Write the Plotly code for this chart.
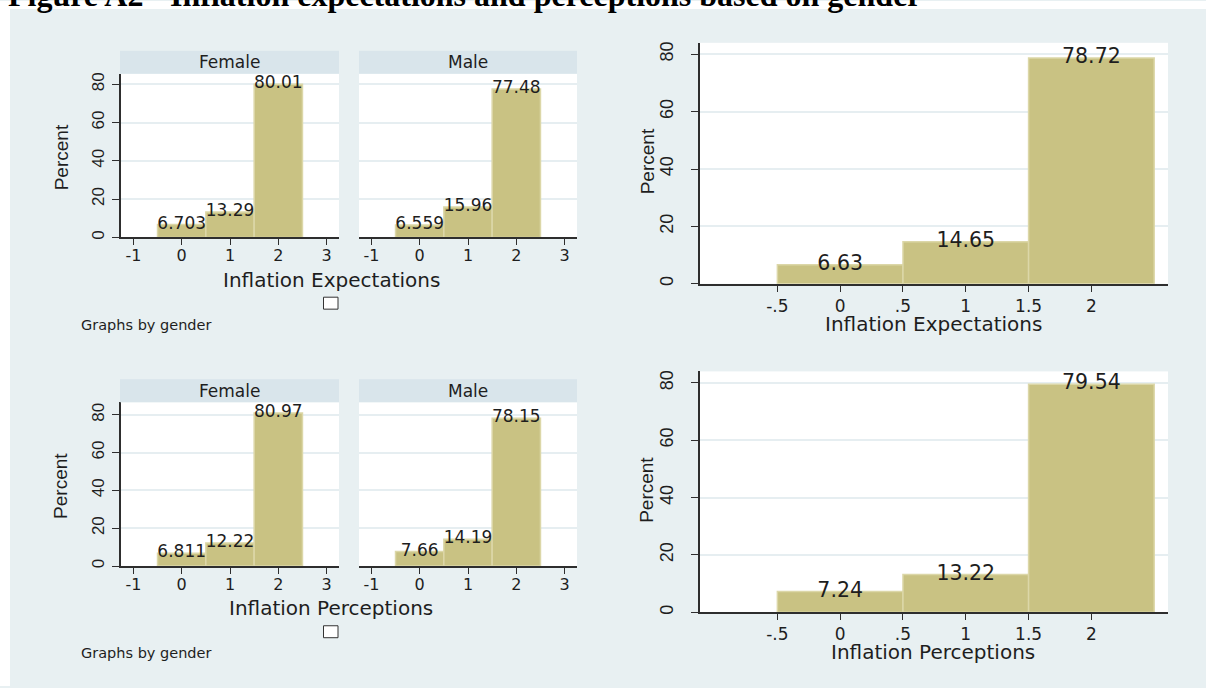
import plotly.graph_objects as go

# ---- data -------------------------------------------------------------
categories = [0, 1, 2]

exp_female = [6.703, 13.29, 80.01]
exp_male = [6.559, 15.96, 77.48]
exp_all = [6.63, 14.65, 78.72]

perc_female = [6.811, 12.22, 80.97]
perc_male = [7.66, 14.19, 78.15]
perc_all = [7.24, 13.22, 79.54]

facet_labels = ["Female", "Male"]
y_ticks = [0, 20, 40, 60, 80]
facet_x_ticks = [-1, 0, 1, 2, 3]
pooled_x_ticks = [-0.5, 0, 0.5, 1, 1.5, 2]
pooled_x_ticktext = ["-.5", "0", ".5", "1", "1.5", "2"]

# ---- style ------------------------------------------------------------
W, H = 1206, 688
FONT = "DejaVu Sans, Verdana, sans-serif"          # horizontal text
FONT_V = "Liberation Sans, Arial, sans-serif"      # rotated text
BG = "#E8F0F2"
STRIP = "#D9E5EB"
BAR = "#C9C283"
BAR_EDGE = "#DCD7A8"
GRID = "#E6EEF1"
AXIS = "#2E2E2E"
TXT = "#1E1E1E"


def px_x(x):
    return x / W


def px_y(y):
    return 1 - y / H


def note(text, x, y, size, family=FONT, angle=0, xanchor="center", yanchor="middle"):
    return dict(text=text, xref="paper", yref="paper", x=px_x(x), y=px_y(y),
                xanchor=xanchor, yanchor=yanchor, textangle=angle, showarrow=False,
                font=dict(family=family, size=size, color=TXT))


fig = go.Figure()

# panel boxes in pixels: (x0, x1, y_top, y_bottom)
ROW_SHIFT = 330
panels = []
for row, (fem, mal, pooled) in enumerate([(exp_female, exp_male, exp_all),
                                          (perc_female, perc_male, perc_all)]):
    dy = row * ROW_SHIFT
    ymax_f = 85.5 if row == 0 else 86.6
    panels.append(dict(vals=fem, box=(121, 339, 73 + dy, 237.5 + dy), ymax=ymax_f,
                       xr=[-1.256, 3.256], kind="facet", yaxis_line=True))
    panels.append(dict(vals=mal, box=(359, 577, 73 + dy, 237.5 + dy), ymax=ymax_f,
                       xr=[-1.256, 3.256], kind="facet", yaxis_line=False))
    panels.append(dict(vals=pooled, box=(699.5, 1168, 42 + dy, 284 + dy), ymax=84.0,
                       xr=[-1.12, 2.61], kind="pooled", yaxis_line=True))

layout_axes = {}
for i, p in enumerate(panels, start=1):
    x0, x1, yt, yb = p["box"]
    facet = p["kind"] == "facet"
    xa = "x" if i == 1 else f"x{i}"
    ya = "y" if i == 1 else f"y{i}"
    fig.add_trace(go.Bar(
        x=categories, y=p["vals"], width=1,
        marker=dict(color=BAR, line=dict(color=BAR_EDGE, width=1.5)),
        xaxis=xa, yaxis=ya, showlegend=False, hoverinfo="skip",
    ))
    fig.add_trace(go.Scatter(
        x=categories, y=p["vals"], mode="text",
        text=[f"{v:.4g}" for v in p["vals"]],
        textposition="middle center",
        textfont=dict(family=FONT, size=17 if facet else 20.5, color=TXT),
        xaxis=xa, yaxis=ya, showlegend=False, hoverinfo="skip", cliponaxis=False,
    ))

    xkey = "xaxis" if i == 1 else f"xaxis{i}"
    ykey = "yaxis" if i == 1 else f"yaxis{i}"
    if facet:
        xt = dict(tickmode="array", tickvals=facet_x_ticks,
                  ticktext=[str(t) for t in facet_x_ticks])
    else:
        xt = dict(tickmode="array", tickvals=pooled_x_ticks, ticktext=pooled_x_ticktext)
    layout_axes[xkey] = dict(
        domain=[px_x(x0), px_x(x1)], anchor=ya, range=p["xr"],
        showgrid=False, zeroline=False, showline=True, linecolor=AXIS, linewidth=1.5,
        ticks="outside", ticklen=6, tickwidth=1.2, tickcolor=AXIS,
        ticklabelstandoff=-3 if facet else 0,
        tickfont=dict(family=FONT, size=16 if facet else 17, color=TXT),
        fixedrange=True, **xt,
    )
    layout_axes[ykey] = dict(
        domain=[px_y(yb), px_y(yt)], anchor=xa, range=[0, p["ymax"]],
        tickmode="array", tickvals=y_ticks,
        showgrid=True, gridcolor=GRID, gridwidth=2, zeroline=False,
        showline=p["yaxis_line"], linecolor=AXIS, linewidth=1.5,
        ticks="outside" if p["yaxis_line"] else "", ticklen=7, tickwidth=1.2,
        tickcolor=AXIS, showticklabels=p["yaxis_line"], tickangle=-90,
        ticklabelstandoff=1 if facet else 11,
        tickfont=dict(family=FONT_V, size=17 if facet else 18, color=TXT),
        fixedrange=True,
    )

shapes = [
    # white margin above and left of the graph region
    dict(type="rect", xref="paper", yref="paper", x0=0, x1=1, y0=px_y(8), y1=1,
         fillcolor="white", line=dict(width=0), layer="below"),
    dict(type="rect", xref="paper", yref="paper", x0=0, x1=px_x(10), y0=0, y1=1,
         fillcolor="white", line=dict(width=0), layer="below"),
]
annotations = [
    dict(text="<b>Figure A2 - Inflation expectations and perceptions based on gender</b>",
         xref="paper", yref="paper", x=px_x(6), y=px_y(-6.5), xanchor="left",
         yanchor="middle", showarrow=False,
         font=dict(family="Liberation Serif, Times New Roman, serif", size=32,
                   color="black")),
]

for row, xtitle in enumerate(["Inflation Expectations", "Inflation Perceptions"]):
    dy = row * ROW_SHIFT
    # facet strips
    for (sx0, sx1), lab in zip([(120, 339), (359, 577)], facet_labels):
        shapes.append(dict(type="rect", xref="paper", yref="paper",
                           x0=px_x(sx0), x1=px_x(sx1), y0=px_y(73 + dy), y1=px_y(50 + dy),
                           fillcolor=STRIP, line=dict(width=0)))
        annotations.append(note(lab, (sx0 + sx1) / 2, 61.5 + dy, 17))
    # empty legend key under the facets
    shapes.append(dict(type="rect", xref="paper", yref="paper",
                       x0=px_x(323.5), x1=px_x(338), y0=px_y(309.5 + dy), y1=px_y(297.5 + dy),
                       fillcolor="white", line=dict(color="#333333", width=1)))
    annotations += [
        note(xtitle, 331, 280 + dy, 20),
        note("Graphs by gender", 79, 325 + dy, 14.5, xanchor="left"),
        note("Percent", 61, 157 + dy, 19, family=FONT_V, angle=-90),
        note(xtitle, 933, 324 + dy, 20),
        note("Percent", 647, 161 + dy, 19, family=FONT_V, angle=-90),
    ]

fig.update_layout(
    width=W, height=H, margin=dict(l=0, r=0, t=0, b=0),
    paper_bgcolor=BG, plot_bgcolor="white",
    shapes=shapes, annotations=annotations, showlegend=False,
    **layout_axes,
)

fig.write_html("out.html", config={"displayModeBar": False})
